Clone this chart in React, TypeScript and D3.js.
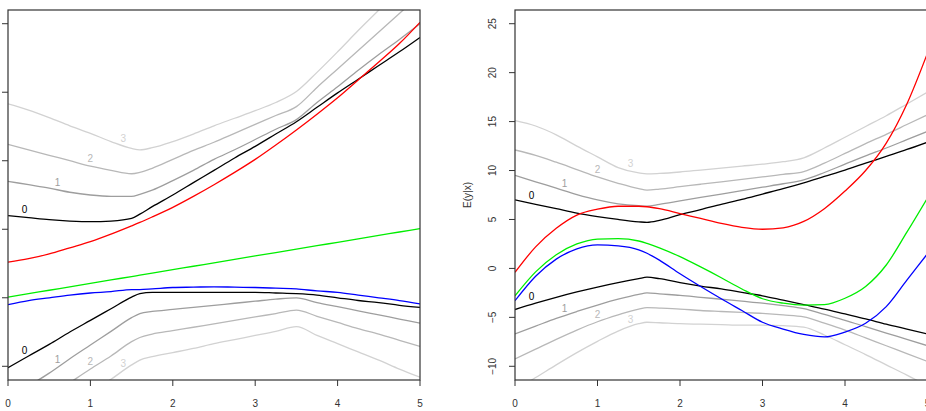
import React from 'react';
import * as d3 from 'd3';

// shared x grid
const xs = [0, 0.25, 0.5, 0.75, 1, 1.25, 1.5, 1.6, 1.75, 2, 2.25, 2.5, 2.75, 3, 3.25, 3.5, 3.75, 4, 4.25, 4.5, 4.75, 5];

// left panel
const leftUpper0 = [2.2, 2.17, 2.14, 2.12, 2.11, 2.12, 2.16, 2.22, 2.33, 2.5, 2.68, 2.86, 3.04, 3.21, 3.39, 3.57, 3.78, 3.99, 4.19, 4.39, 4.59, 4.8];
const leftUpper1 = [2.7, 2.65, 2.6, 2.54, 2.5, 2.48, 2.48, 2.51, 2.57, 2.71, 2.86, 3.02, 3.16, 3.31, 3.46, 3.6, 3.85, 4.08, 4.32, 4.55, 4.77, 5.0];
const leftUpper2 = [3.24, 3.16, 3.08, 3.0, 2.92, 2.86, 2.81, 2.83, 2.89, 3.02, 3.15, 3.27, 3.4, 3.53, 3.66, 3.79, 4.07, 4.34, 4.61, 4.88, 5.15, 5.42];
const leftUpper3 = [3.83, 3.74, 3.63, 3.51, 3.4, 3.28, 3.18, 3.16, 3.19, 3.28, 3.39, 3.51, 3.62, 3.73, 3.85, 4.01, 4.29, 4.59, 4.9, 5.2, 5.51, 5.82];
const leftLower0 = [-0.02, 0.15, 0.32, 0.5, 0.67, 0.84, 1.01, 1.06, 1.08, 1.08, 1.08, 1.08, 1.08, 1.08, 1.07, 1.06, 1.04, 1.0, 0.96, 0.93, 0.89, 0.86];
const leftLower1 = [-0.5, -0.29, -0.1, 0.11, 0.31, 0.51, 0.71, 0.77, 0.8, 0.83, 0.86, 0.89, 0.92, 0.95, 0.98, 1.0, 0.93, 0.87, 0.81, 0.75, 0.69, 0.63];
const leftLower2 = [-0.83, -0.63, -0.44, -0.24, -0.04, 0.15, 0.36, 0.42, 0.47, 0.52, 0.57, 0.62, 0.67, 0.72, 0.77, 0.82, 0.73, 0.64, 0.55, 0.47, 0.38, 0.29];
const leftLower3 = [-1.21, -1.01, -0.8, -0.6, -0.39, -0.19, 0.02, 0.09, 0.14, 0.2, 0.26, 0.33, 0.39, 0.45, 0.51, 0.58, 0.45, 0.33, 0.21, 0.09, -0.04, -0.16];
const leftRed = [1.52, 1.57, 1.64, 1.73, 1.82, 1.93, 2.05, 2.1, 2.18, 2.32, 2.48, 2.65, 2.83, 3.02, 3.23, 3.45, 3.68, 3.92, 4.18, 4.44, 4.71, 5.02];
const leftGreen = [1.01, 1.06, 1.11, 1.16, 1.21, 1.26, 1.31, 1.33, 1.36, 1.41, 1.46, 1.51, 1.56, 1.61, 1.66, 1.71, 1.76, 1.81, 1.86, 1.91, 1.96, 2.01];
const leftBlue = [0.9, 0.96, 1.0, 1.04, 1.07, 1.09, 1.12, 1.12, 1.13, 1.15, 1.155, 1.16, 1.155, 1.15, 1.14, 1.13, 1.1, 1.08, 1.04, 1.0, 0.96, 0.91];

// right panel
const rightUpper0 = [7.0, 6.55, 6.1, 5.65, 5.3, 5.0, 4.76, 4.7, 4.9, 5.5, 6.0, 6.55, 7.05, 7.6, 8.15, 8.75, 9.4, 10.05, 10.75, 11.45, 12.15, 12.9];
const rightUpper1 = [9.5, 8.85, 8.2, 7.55, 7.0, 6.6, 6.4, 6.36, 6.55, 6.9, 7.25, 7.6, 7.95, 8.3, 8.65, 9.05, 9.8, 10.65, 11.5, 12.3, 13.15, 14.0];
const rightUpper2 = [12.1, 11.55, 10.85, 10.1, 9.35, 8.7, 8.15, 8.0, 8.1, 8.35, 8.6, 8.85, 9.1, 9.35, 9.6, 9.9, 10.75, 11.75, 12.75, 13.7, 14.7, 15.7];
const rightUpper3 = [15.1, 14.55, 13.65, 12.5, 11.4, 10.3, 9.75, 9.65, 9.7, 9.85, 10.05, 10.25, 10.45, 10.65, 10.9, 11.3, 12.3, 13.4, 14.5, 15.6, 16.8, 18.0];
const rightLower0 = [-4.2, -3.55, -2.95, -2.4, -1.9, -1.45, -1.05, -0.9, -1.05, -1.45, -1.8, -2.1, -2.45, -2.8, -3.25, -3.7, -4.15, -4.65, -5.15, -5.7, -6.2, -6.7];
const rightLower1 = [-6.7, -5.9, -5.1, -4.4, -3.75, -3.15, -2.65, -2.5, -2.6, -2.75, -2.95, -3.15, -3.35, -3.55, -3.8, -4.1, -4.7, -5.3, -5.95, -6.6, -7.25, -7.9];
const rightLower2 = [-9.25, -8.25, -7.25, -6.3, -5.45, -4.75, -4.15, -4.0, -4.05, -4.15, -4.3, -4.4, -4.5, -4.6, -4.75, -4.95, -5.6, -6.3, -7.1, -7.9, -8.7, -9.5];
const rightLower3 = [-12.4, -11.15, -9.85, -8.6, -7.45, -6.4, -5.65, -5.5, -5.55, -5.65, -5.7, -5.75, -5.8, -5.8, -5.85, -6.0, -6.8, -7.8, -8.8, -9.85, -10.9, -12.0];
const rightRed = [-0.4, 2.2, 4.1, 5.45, 6.05, 6.35, 6.35, 6.3, 6.1, 5.6, 5.1, 4.6, 4.2, 4.0, 4.15, 4.8, 6.1, 7.9, 10.0, 12.8, 16.8, 22.0];
const rightGreen = [-2.8, -0.35, 1.4, 2.5, 3.0, 3.05, 2.8, 2.55, 2.1, 1.2, 0.15, -0.95, -2.1, -3.1, -3.55, -3.75, -3.7, -3.05, -1.85, 0.35, 3.7, 7.2];
const rightBlue = [-3.3, -0.8, 0.95, 2.0, 2.4, 2.3, 1.9, 1.55, 0.85, -0.55, -1.85, -3.1, -4.3, -5.5, -6.2, -6.75, -7.0, -6.5, -5.6, -3.9, -1.2, 1.5];

const bandLabels = ['0', '1', '2', '3'];
const labelXs = [0.2, 0.6, 1.0, 1.4];
const bandColors = ['#000000', '#9e9e9e', '#b8b8b8', '#d2d2d2'];

const xTicks = [0, 1, 2, 3, 4, 5];
const leftYTicks = [0, 1, 2, 3, 4, 5];
const rightYTicks = [-10, -5, 0, 5, 10, 15, 20, 25];

const font = '"Liberation Sans", Arial, Helvetica, sans-serif';

type PanelProps = {
  id: string;
  left: number;
  right: number;
  yDomain: [number, number];
  yTicks: number[];
  showYLabels: boolean;
  yTitle?: string;
  upper: number[][];
  lower: number[][];
  red: number[];
  green: number[];
  blue: number[];
};

const top = 10;
const bottom = 380;

function Panel(p: PanelProps) {
  const x = d3.scaleLinear().domain([0, 5]).range([p.left, p.right]);
  const y = d3.scaleLinear().domain(p.yDomain).range([bottom, top]);
  const line = d3
    .line<number>()
    .x((_, i) => x(xs[i]))
    .y((d) => y(d))
    .curve(d3.curveMonotoneX);

  const bands = [...p.upper, ...p.lower];
  // place the contour-style labels on the band lines
  const labelFor = (series: number[], k: number) => {
    const f = d3.scaleLinear().domain(xs).range(series);
    return y(f(labelXs[k]));
  };

  return (
    <g>
      <defs>
        <clipPath id={p.id}>
          <rect x={p.left} y={top} width={p.right - p.left} height={bottom - top} />
        </clipPath>
      </defs>
      <g clipPath={`url(#${p.id})`} fill="none" strokeWidth={1.3}>
        {[3, 2, 1, 0].map((k) => (
          <g key={k} stroke={bandColors[k]}>
            <path d={line(p.upper[k]) || ''} />
            <path d={line(p.lower[k]) || ''} />
          </g>
        ))}
        <path d={line(p.red) || ''} stroke="#ff0000" />
        <path d={line(p.green) || ''} stroke="#00ee00" />
        <path d={line(p.blue) || ''} stroke="#0000ff" />
        {bands.map((s, i) => {
          const k = i % 4;
          return (
            <text
              key={i}
              x={x(labelXs[k])}
              y={labelFor(s, k) - 4}
              fill={bandColors[k]}
              stroke="none"
              fontSize={10}
              fontFamily={font}
              textAnchor="middle"
            >
              {bandLabels[k]}
            </text>
          );
        })}
      </g>

      <rect
        x={p.left}
        y={top}
        width={p.right - p.left}
        height={bottom - top}
        fill="none"
        stroke="#333"
        strokeWidth={1.2}
      />

      {xTicks.map((t) => (
        <g key={t}>
          <line x1={x(t)} x2={x(t)} y1={bottom} y2={bottom + 6} stroke="#333" />
          <text x={x(t)} y={407} fontSize={10} fontFamily={font} fill="#333" textAnchor="middle">
            {t}
          </text>
        </g>
      ))}

      {p.yTicks.map((t) => (
        <g key={t}>
          <line x1={p.left - 6} x2={p.left} y1={y(t)} y2={y(t)} stroke="#333" />
          {p.showYLabels && (
            <text
              transform={`translate(${p.left - 19},${y(t)}) rotate(-90)`}
              fontSize={10}
              fontFamily={font}
              fill="#333"
              textAnchor="middle"
            >
              {d3.format('d')(t).replace('-', '\u2212')}
            </text>
          )}
        </g>
      ))}

      {p.yTitle && (
        <text
          transform={`translate(${p.left - 44},${(top + bottom) / 2}) rotate(-90)`}
          fontSize={10}
          fontFamily={font}
          fill="#333"
          textAnchor="middle"
        >
          {p.yTitle}
        </text>
      )}
    </g>
  );
}

export default function App() {
  return (
    <svg
      width={926}
      height={411}
      style={{ position: 'absolute', left: 0, top: 0, background: '#fff' }}
    >
      <rect width={926} height={411} fill="#fff" />
      <Panel
        id="clipL"
        left={8}
        right={420}
        yDomain={[-0.2, 5.2]}
        yTicks={leftYTicks}
        showYLabels={false}
        upper={[leftUpper0, leftUpper1, leftUpper2, leftUpper3]}
        lower={[leftLower0, leftLower1, leftLower2, leftLower3]}
        red={leftRed}
        green={leftGreen}
        blue={leftBlue}
      />
      <Panel
        id="clipR"
        left={515}
        right={927.5}
        yDomain={[-11.4, 26.4]}
        yTicks={rightYTicks}
        showYLabels={true}
        yTitle="E(y|x)"
        upper={[rightUpper0, rightUpper1, rightUpper2, rightUpper3]}
        lower={[rightLower0, rightLower1, rightLower2, rightLower3]}
        red={rightRed}
        green={rightGreen}
        blue={rightBlue}
      />
    </svg>
  );
}
